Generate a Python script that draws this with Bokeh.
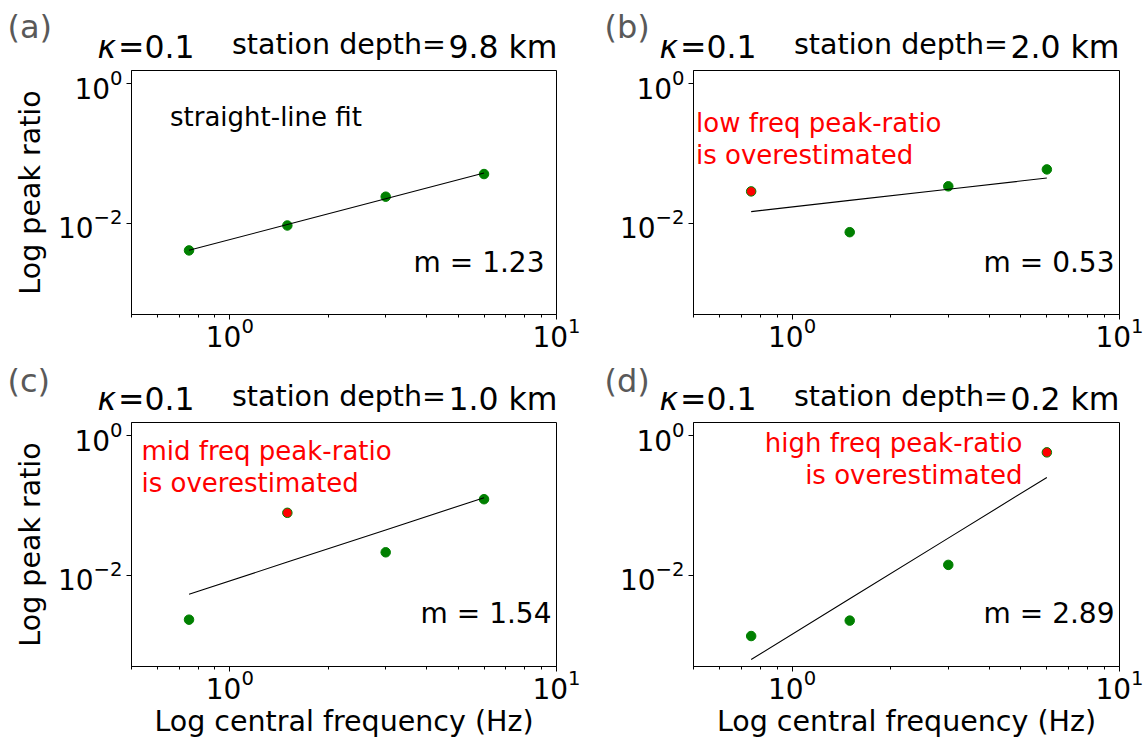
import numpy as np
from bokeh.plotting import figure
from bokeh.layouts import column, row
from bokeh.models import Range1d, FixedTicker, LogTickFormatter
from bokeh.core.properties import value
from bokeh.embed import file_html
from bokeh.resources import INLINE

# ---------------- data ----------------
freq = [0.75, 1.5, 3.0, 6.0]                       # central frequency (Hz)
ratio_a = [0.00407, 0.00927, 0.0240, 0.0507]
ratio_b = [0.0286, 0.00743, 0.0338, 0.0591]
ratio_c = [0.0023, 0.0785, 0.0213, 0.123]
ratio_d = [0.00134, 0.00223, 0.01406, 0.578]
ratios = [ratio_a, ratio_b, ratio_c, ratio_d]
depths = ["9.8 km", "2.0 km", "1.0 km", "0.2 km"]
slopes = ["1.23", "0.53", "1.54", "2.89"]
flagged = [None, 0, 1, 3]                          # overestimated point index
tags = ["(a)", "(b)", "(c)", "(d)"]
kappa = "0.1"
notes_a = ["straight-line fit"]
notes_b = ["low freq peak-ratio", "is overestimated"]
notes_c = ["mid freq peak-ratio", "is overestimated"]
notes_d = ["high freq peak-ratio", "is overestimated"]
x_ticks = [1, 10]
x_minor = [0.5, 0.6, 0.7, 0.8, 0.9, 2, 3, 4, 5, 6, 7, 8, 9]
y_ticks = [0.01, 1]
XLO, XHI = 0.5, 10
YLO, YHI = 4.9e-4, 1.55

FONT = "DejaVu Sans"

# ------------- layout geometry --------------
# plot figures: (width, height, border left, right, top, bottom)
geo = [
    (580, 296, 131, 24, 4, 48),
    (566, 296, 113, 27, 4, 48),
    (580, 322, 131, 24, 4, 74),
    (566, 322, 113, 27, 4, 74),
]
FH = 244
# title strips: (width, height)
strip_geo = [(580, 66), (566, 66), (580, 56), (566, 56)]
BASE_K = 0.36   # baseline correction (fraction of font size)


def txt(p, x, y, text, size, color="black", align="left", style="normal"):
    p.text(x=[x], y=[y], text=[text], text_font=value(FONT),
           text_font_size=value(size), text_color=color,
           text_align=value(align), text_baseline=value("alphabetic"),
           text_font_style=value(style))


def px(size):
    return float(size.replace("px", ""))


def make_strip(i):
    w, h = strip_geo[i]
    s = figure(width=w, height=h, x_range=Range1d(0, w), y_range=Range1d(0, h),
               x_axis_location=None, y_axis_location=None,
               output_backend="svg", toolbar_location=None,
               min_border_left=0, min_border_right=0,
               min_border_top=0, min_border_bottom=0)
    s.outline_line_color = None
    s.xgrid.visible = False
    s.ygrid.visible = False
    s.background_fill_color = "white"
    s.border_fill_color = "white"
    left = i in (0, 2)
    top = i < 2
    # baselines measured from the strip bottom
    yb = 7.8
    ys = 12.0
    yt = 28 if top else 25.5
    dx = 0 if left else -18
    big, mid, tg = "31.5px", "28.5px", "32px"
    txt(s, 97 + dx, yb + BASE_K * px(big), "\u03ba", big, style="italic")
    txt(s, 117.5 + dx, yb + BASE_K * px(big), "=" + kappa, big)
    txt(s, 231.5 + dx, ys + BASE_K * px(mid), "station depth=", mid)
    txt(s, 448 + dx, yb + BASE_K * px(big), depths[i], big)
    txt(s, 7 if left else 24, yt + BASE_K * px(tg), tags[i], tg, color="#595959")
    return s


def make_panel(i):
    w, h, bl, br, bt, bb = geo[i]
    fw = w - bl - br
    p = figure(width=w, height=h, x_axis_type="log", y_axis_type="log",
               x_range=Range1d(XLO, XHI), y_range=Range1d(YLO, YHI),
               output_backend="svg", toolbar_location=None,
               min_border_left=bl, min_border_right=br,
               min_border_top=bt, min_border_bottom=bb)
    p.xgrid.visible = False
    p.ygrid.visible = False
    p.outline_line_color = "black"
    p.outline_line_width = 1
    p.background_fill_color = "white"
    p.border_fill_color = "white"

    p.xaxis.ticker = FixedTicker(ticks=x_ticks, minor_ticks=x_minor)
    p.yaxis.ticker = FixedTicker(ticks=y_ticks, minor_ticks=[])
    p.xaxis.formatter = LogTickFormatter()
    p.yaxis.formatter = LogTickFormatter()
    for ax in (p.xaxis, p.yaxis):
        ax.axis_line_color = "black"
        ax.major_tick_line_color = "black"
        ax.minor_tick_line_color = "black"
        ax.major_tick_in = 0
        ax.minor_tick_in = 0
        ax.major_tick_out = 5
        ax.minor_tick_out = 3
        ax.major_label_text_font = FONT
        ax.major_label_text_font_size = "28px"
        ax.major_label_text_color = "black"
        ax.axis_label_text_font = FONT
        ax.axis_label_text_font_size = "28.5px"
        ax.axis_label_text_font_style = "normal"
        ax.axis_label_text_color = "black"
    p.xaxis.major_label_standoff = -3
    p.yaxis.major_label_standoff = 4
    p.yaxis.axis_label_standoff = 8
    p.xaxis.axis_label_standoff = 3
    if i in (0, 2):
        p.yaxis.axis_label = "Log peak ratio"
    if i in (2, 3):
        p.xaxis.axis_label = "Log central frequency (Hz)"

    ratio = ratios[i]
    colors = ["red" if flagged[i] == k else "green" for k in range(len(freq))]
    p.scatter(freq, ratio, size=9.5, fill_color=colors, line_color="green", line_width=1)

    lx = np.log10(freq)
    ly = np.log10(ratio)
    m, c = np.polyfit(lx, ly, 1)
    fit = 10 ** (m * lx + c)
    p.line(freq, fit, line_color="black", line_width=1.1)

    # annotation helper: frame pixel offsets -> data coordinates
    def note(sx, sy, text, size, color="black", align="left"):
        sy = sy + BASE_K * px(size)
        xd = 10 ** (np.log10(XLO) + sx / fw * (np.log10(XHI) - np.log10(XLO)))
        yd = 10 ** (np.log10(YLO) + sy / FH * (np.log10(YHI) - np.log10(YLO)))
        txt(p, xd, yd, text, size, color=color, align=align)

    if i == 0:
        note(38.5, 188, notes_a[0], "26px")
        note(413, 42.3, "m = " + slopes[i], "28px", align="right")
    elif i == 1:
        note(2.5, 182.3, notes_b[0], "26px", color="red")
        note(2.5, 150, notes_b[1], "26px", color="red")
        note(421, 42.3, "m = " + slopes[i], "28px", align="right")
    elif i == 2:
        note(10, 206, notes_c[0], "26px", color="red")
        note(10, 174.3, notes_c[1], "26px", color="red")
        note(420, 42.7, "m = " + slopes[i], "28px", align="right")
    else:
        note(329, 214.3, notes_d[0], "26px", color="red", align="right")
        note(329, 182, notes_d[1], "26px", color="red", align="right")
        note(421, 42.7, "m = " + slopes[i], "28px", align="right")
    return p


strips = [make_strip(i) for i in range(4)]
panels = [make_panel(i) for i in range(4)]
layout = column(row(strips[0], strips[1], spacing=0),
                row(panels[0], panels[1], spacing=0),
                row(strips[2], strips[3], spacing=0),
                row(panels[2], panels[3], spacing=0), spacing=0)

open("out.html", "w").write(file_html(layout, INLINE))
